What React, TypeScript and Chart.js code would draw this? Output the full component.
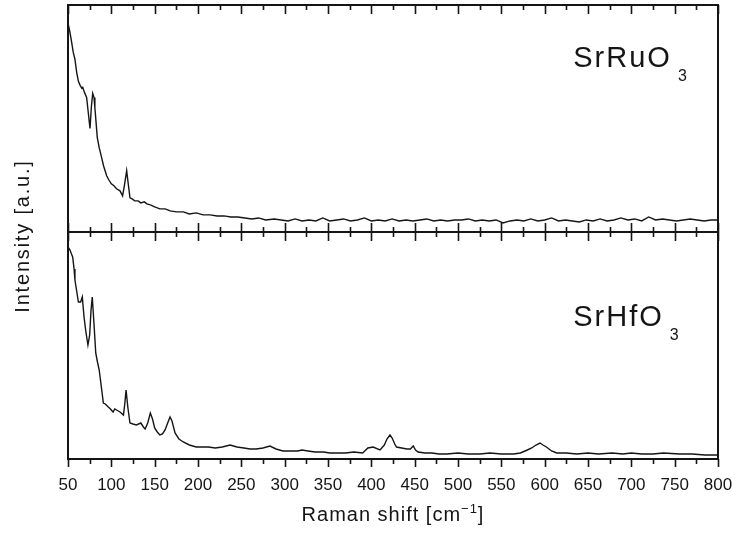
import React, { useEffect, useRef } from "react";
import { Chart, registerables } from "chart.js";

Chart.register(...registerables);

// ---- Data (Raman shift in cm^-1, intensity in arbitrary units) ----
const ruShift = [50, 52, 54, 56, 58, 60, 62, 64, 66, 67, 69, 71.5, 73, 75.4, 77, 78.5, 80, 81, 83.8, 86, 88.8, 91, 94.6, 97, 100, 103, 106, 110, 113, 115, 117.7, 119.5, 121.5, 124, 127, 131, 134, 138, 141, 145, 150, 156, 162, 168, 175, 183, 190, 198, 206, 214, 222, 230, 238, 246, 254, 262, 270, 278, 288, 296, 304, 312, 320, 328, 336, 344, 352, 360, 368, 376, 384, 392, 400, 408, 416, 424, 432, 440, 448, 456, 464, 472, 480, 488, 496, 504, 512, 520, 528, 536, 544, 552, 560, 568, 576, 584, 592, 600, 608, 616, 624, 632, 640, 648, 656, 664, 672, 680, 688, 696, 704, 712, 720, 728, 736, 744, 752, 760, 768, 776, 784, 792, 800];
const ruIntensity = [208, 200, 190, 179, 172, 159, 150, 146, 143, 144, 139, 134, 122, 103, 125, 138, 134, 124, 94, 84, 74, 66, 56, 52, 48, 46, 43, 41, 36, 46, 61, 48, 34, 33, 31, 31, 29, 30, 28, 27, 25, 23, 23, 21, 20, 20, 18, 19, 17, 17, 16, 16, 15, 15, 14, 13, 14, 12, 13, 12, 11, 13, 11, 12, 11, 14, 11, 12, 13, 11, 12, 14, 11, 12, 11, 13, 11, 12, 11, 12, 13, 11, 12, 11, 12, 12, 13, 11, 12, 11, 12, 9, 11, 12, 11, 13, 11, 12, 14, 11, 12, 11, 10, 12, 11, 13, 11, 12, 14, 12, 13, 11, 15, 12, 13, 12, 11, 12, 13, 12, 11, 12, 12];

const hfShift = [50, 52.3, 54, 55.4, 57, 58, 60, 62, 64.6, 66.5, 68.5, 70.5, 73, 75, 76.5, 78, 80, 82, 84, 86, 88.5, 90.8, 93, 96.5, 99, 102, 104, 106, 110, 114, 115.5, 117, 119, 121.5, 125, 129, 134, 137, 139, 142, 145, 147.5, 150, 153, 156, 159, 162, 165, 167.7, 170, 173.5, 178, 183, 190, 198, 205, 212, 220, 228, 237, 245, 253, 260, 267, 275, 283, 290, 298, 307, 315, 320, 327, 335, 345, 352, 360, 370, 380, 390, 396, 402, 410, 415, 418, 421.5, 424, 427, 429, 435, 441, 445, 448.4, 451, 454, 462, 470, 478, 487, 500, 512, 525, 537, 550, 564, 572, 580, 585, 590, 594.6, 598, 602, 608, 614, 625, 637, 650, 662, 678, 690, 700, 712, 725, 737, 756, 770, 785, 800];
const hfIntensity = [212, 209, 205, 202, 190, 179, 168, 157, 157, 162, 142, 128, 114, 124, 148, 162, 135, 106, 97, 89, 72, 56, 55, 52, 50, 47, 50, 49, 47, 44, 55, 69, 52, 36, 35, 34, 36, 32, 30, 36, 46, 40, 31, 27, 24, 25, 29, 36, 42, 38, 26, 20, 17, 14, 12, 12, 12, 11, 12, 14, 12, 11, 10, 10, 11, 13, 10, 8, 8, 8, 9, 8, 7, 7, 6, 6, 6, 7, 6, 11, 12, 9, 14, 20, 24, 21, 15, 12, 11, 10, 10, 13, 9, 7, 6, 6, 5, 5, 6, 5, 5, 6, 5, 5, 6, 9, 11, 14, 16, 14, 12, 8, 6, 6, 5, 6, 5, 6, 5, 6, 5, 5, 6, 5, 5, 4, 4];

const xTickValues = [50, 100, 150, 200, 250, 300, 350, 400, 450, 500, 550, 600, 650, 700, 750, 800];
const xMinorStep = 25;

const sampleLabels = [
  { base: "SrRuO", sub: "3", axis: "yTop", x: 633, y: 164 },
  { base: "SrHfO", sub: "3", axis: "yBottom", x: 633, y: 133 },
];

const FONT = "'Liberation Sans', Arial, Helvetica, sans-serif";
const INK = "#151515";

function drawSpaced(ctx: CanvasRenderingContext2D, text: string, x: number, y: number, spacing: number) {
  (ctx as any).letterSpacing = spacing + "px";
  ctx.fillText(text, x, y);
  const w = ctx.measureText(text).width;
  (ctx as any).letterSpacing = "0px";
  return w;
}

const framePlugin = {
  id: "framePlugin",
  afterDraw(chart: any) {
    const { ctx, chartArea: a, scales } = chart;
    const xs = scales.x;
    const yt = scales.yTop;
    const mid = yt.bottom;
    ctx.save();
    ctx.strokeStyle = INK;
    ctx.lineWidth = 2;
    ctx.strokeRect(a.left, a.top, a.right - a.left, a.bottom - a.top);
    ctx.beginPath();
    ctx.moveTo(a.left, mid);
    ctx.lineTo(a.right, mid);
    ctx.stroke();

    ctx.lineWidth = 1.6;
    ctx.beginPath();
    for (let v = xs.min; v <= xs.max + 0.001; v += xMinorStep) {
      const px = Math.round(xs.getPixelForValue(v)) + 0.5;
      const major = v % 50 === 0;
      const len = major ? 9 : 5;
      // top edge: inward
      ctx.moveTo(px, a.top);
      ctx.lineTo(px, a.top + len);
      // divider: both panels inward
      ctx.moveTo(px, mid - len);
      ctx.lineTo(px, mid + len);
      // bottom edge: outward
      const blen = major ? 8 : 5;
      ctx.moveTo(px, a.bottom);
      ctx.lineTo(px, a.bottom + blen);
    }
    ctx.stroke();

    ctx.fillStyle = INK;
    ctx.textAlign = "left";
    ctx.textBaseline = "alphabetic";
    // sample labels
    for (const lab of sampleLabels) {
      const px = xs.getPixelForValue(lab.x);
      const py = scales[lab.axis].getPixelForValue(lab.y);
      ctx.font = `29px ${FONT}`;
      const w = drawSpaced(ctx, lab.base, px, py, 2);
      ctx.font = `16px ${FONT}`;
      drawSpaced(ctx, lab.sub, px + w + 6, py + 14, 0);
    }

    // x axis title with superscript
    const cx = (a.left + a.right) / 2;
    const baseY = 521;
    ctx.font = `20px ${FONT}`;
    (ctx as any).letterSpacing = "1px";
    const w1 = ctx.measureText("Raman shift [cm").width;
    const w3 = ctx.measureText("]").width;
    ctx.font = `13px ${FONT}`;
    const w2 = ctx.measureText("\u22121").width;
    (ctx as any).letterSpacing = "0px";
    let sx = cx - (w1 + w2 + w3) / 2;
    ctx.font = `20px ${FONT}`;
    drawSpaced(ctx, "Raman shift [cm", sx, baseY, 1);
    sx += w1;
    ctx.font = `13px ${FONT}`;
    drawSpaced(ctx, "\u22121", sx, baseY - 8, 1);
    sx += w2;
    ctx.font = `20px ${FONT}`;
    drawSpaced(ctx, "]", sx, baseY, 1);

    // y axis title
    ctx.save();
    ctx.translate(23, 236);
    ctx.rotate(-Math.PI / 2);
    ctx.textAlign = "center";
    ctx.textBaseline = "middle";
    ctx.font = `20px ${FONT}`;
    drawSpaced(ctx, "Intensity [a.u.]", 0, 0, 1.8);
    ctx.restore();

    ctx.restore();
  },
};

export default function App() {
  const ref = useRef<HTMLCanvasElement | null>(null);
  useEffect(() => {
    if (!ref.current) return;
    const chart = new Chart(ref.current, {
      type: "line",
      data: {
        datasets: [
          {
            label: "SrRuO3",
            data: ruShift.map((x, i) => ({ x, y: ruIntensity[i] })),
            yAxisID: "yTop",
            borderColor: INK,
            borderWidth: 1.4,
            pointRadius: 0,
            tension: 0,
            fill: false,
          },
          {
            label: "SrHfO3",
            data: hfShift.map((x, i) => ({ x, y: hfIntensity[i] })),
            yAxisID: "yBottom",
            borderColor: INK,
            borderWidth: 1.4,
            pointRadius: 0,
            tension: 0,
            fill: false,
          },
        ],
      },
      options: {
        responsive: false,
        animation: false,
        devicePixelRatio: 1,
        layout: { padding: { left: 68, right: 14, top: 5, bottom: 0 } },
        plugins: { legend: { display: false }, tooltip: { enabled: false }, title: { display: false } },
        events: [],
        scales: {
          x: {
            type: "linear",
            position: "bottom",
            min: 50,
            max: 800,
            afterBuildTicks: (s: any) => {
              s.ticks = xTickValues.map((v) => ({ value: v }));
            },
            afterFit: (s: any) => {
              s.height = 77;
              s.paddingLeft = 0;
              s.paddingRight = 0;
            },
            grid: { display: false, drawTicks: false },
            border: { display: false },
            ticks: {
              autoSkip: false,
              maxRotation: 0,
              padding: 16,
              color: INK,
              font: { family: FONT, size: 17 },
            },
          },
          yBottom: {
            type: "linear",
            position: "left",
            stack: "panels",
            stackWeight: 1,
            weight: 0,
            min: 0,
            max: 227,
            afterFit: (s: any) => {
              s.width = 0;
            },
            grid: { display: false, drawTicks: false },
            border: { display: false },
            ticks: { display: false },
          },
          yTop: {
            type: "linear",
            position: "left",
            stack: "panels",
            stackWeight: 1,
            weight: 1,
            min: 0,
            max: 226,
            afterFit: (s: any) => {
              s.width = 0;
            },
            grid: { display: false, drawTicks: false },
            border: { display: false },
            ticks: { display: false },
          },
        },
      } as any,
      plugins: [framePlugin],
    });
    return () => chart.destroy();
  }, []);
  return (
    <div style={{ position: "absolute", left: 0, top: 0, width: 732, height: 536, background: "#fff" }}>
      <canvas ref={ref} width={732} height={536} />
    </div>
  );
}
